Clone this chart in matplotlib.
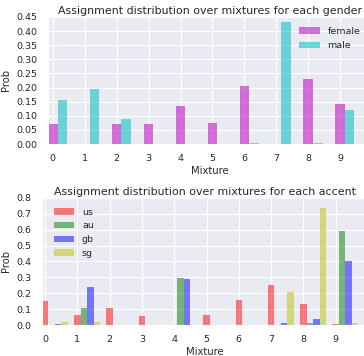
import numpy as np
import matplotlib
matplotlib.use('Agg')
import matplotlib.pyplot as plt
import seaborn as sns

sns.set_style('darkgrid')
plt.rcParams['font.family'] = ['DejaVu Sans']

mixtures = np.arange(10)

# gender
female = [0.07, 0.0, 0.072, 0.072, 0.135, 0.076, 0.205, 0.0, 0.23, 0.14]
male = [0.157, 0.195, 0.088, 0.0, 0.0, 0.0, 0.003, 0.432, 0.005, 0.12]

# accent
acc_us = [0.15, 0.06, 0.11, 0.055, 0.0, 0.06, 0.16, 0.255, 0.13, 0.005]
acc_au = [0.0, 0.105, 0.0, 0.0, 0.295, 0.0, 0.0, 0.0, 0.015, 0.59]
acc_gb = [0.005, 0.24, 0.0, 0.0, 0.29, 0.0, 0.0, 0.015, 0.04, 0.40]
acc_sg = [0.02, 0.022, 0.0, 0.0, 0.0, 0.0, 0.0, 0.205, 0.735, 0.01]

fig = plt.figure(figsize=(3.64, 3.56), dpi=100)

tick_fs = 6.8
lab_fs = 7.2
title_fs = 7.9

# top plot
ax1 = fig.add_axes([0.132, 0.5955, 0.890, 0.357])
w = 0.3
ax1.bar(mixtures, female, w, color='m', alpha=0.55, linewidth=0, label='female')
ax1.bar(mixtures + w, male, w, color='c', alpha=0.55, linewidth=0, label='male')
ax1.set_xlim(-w / 2, 10)
ax1.set_ylim(0, 0.45)
ax1.set_xticks(mixtures)
ax1.set_yticks(np.arange(0, 0.46, 0.05))
ax1.yaxis.set_major_formatter(matplotlib.ticker.FormatStrFormatter('%.2f'))
ax1.tick_params(labelsize=tick_fs, pad=4)
ax1.set_xlabel('Mixture', fontsize=lab_fs, labelpad=2)
ax1.set_ylabel('Prob', fontsize=lab_fs, labelpad=4)
ax1.set_title('Assignment distribution over mixtures for each gender', fontsize=title_fs, pad=2)
ax1.legend(loc='upper right', fontsize=tick_fs, frameon=False,
           bbox_to_anchor=(0.99, 0.99), handlelength=2.2, labelspacing=0.6)

# bottom plot
ax2 = fig.add_axes([0.115, 0.087, 0.896, 0.357])
w = 0.2
ax2.bar(mixtures, acc_us, w, color='r', alpha=0.5, linewidth=0, label='us')
ax2.bar(mixtures + w, acc_au, w, color='g', alpha=0.5, linewidth=0, label='au')
ax2.bar(mixtures + 2 * w, acc_gb, w, color='b', alpha=0.5, linewidth=0, label='gb')
ax2.bar(mixtures + 3 * w, acc_sg, w, color='y', alpha=0.5, linewidth=0, label='sg')
ax2.set_xlim(-w / 2, 10)
ax2.set_ylim(0, 0.8)
ax2.set_xticks(mixtures)
ax2.set_yticks(np.arange(0, 0.81, 0.1))
ax2.yaxis.set_major_formatter(matplotlib.ticker.FormatStrFormatter('%.1f'))
ax2.tick_params(labelsize=tick_fs, pad=4)
ax2.set_xlabel('Mixture', fontsize=lab_fs, labelpad=2)
ax2.set_ylabel('Prob', fontsize=lab_fs, labelpad=4)
ax2.set_title('Assignment distribution over mixtures for each accent', fontsize=title_fs, pad=2)
ax2.legend(loc='upper left', fontsize=tick_fs, frameon=False,
           bbox_to_anchor=(0.01, 0.99), handlelength=2.2, labelspacing=0.5)

fig.savefig('out.png', dpi=100)
